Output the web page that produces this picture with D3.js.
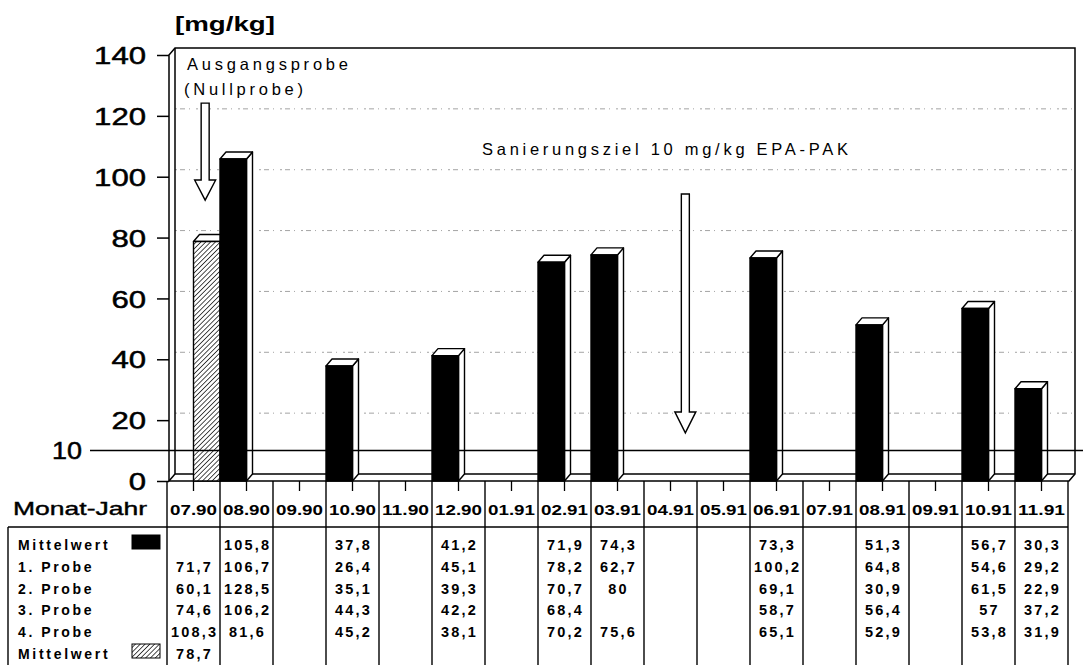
<!DOCTYPE html>
<html>
<head>
<meta charset="utf-8">
<script src="https://cdn.jsdelivr.net/npm/d3@7"></script>
<style>
  html, body { margin: 0; padding: 0; background: #fff; }
  svg { display: block; }
  text { font-family: "Liberation Sans", Arial, Helvetica, sans-serif; fill: #000; }
</style>
</head>
<body>
<svg id="chart" width="1083" height="665"></svg>
<script>
// Sampling months (Monat-Jahr)
const months = ["07.90","08.90","09.90","10.90","11.90","12.90","01.91","02.91","03.91",
                "04.91","05.91","06.91","07.91","08.91","09.91","10.91","11.91"];
// Mean of the four samples per month (black bars)
const mittelwert = [null,105.8,null,37.8,null,41.2,null,71.9,74.3,null,null,73.3,null,51.3,null,56.7,30.3];
// Individual samples
const probe1 = [71.7,106.7,null,26.4,null,45.1,null,78.2,62.7,null,null,100.2,null,64.8,null,54.6,29.2];
const probe2 = [60.1,128.5,null,35.1,null,39.3,null,70.7,80,null,null,69.1,null,30.9,null,61.5,22.9];
const probe3 = [74.6,106.2,null,44.3,null,42.2,null,68.4,null,null,null,58.7,null,56.4,null,57,37.2];
const probe4 = [108.3,81.6,null,45.2,null,38.1,null,70.2,75.6,null,null,65.1,null,52.9,null,53.8,31.9];
// Initial (zero) sample mean (hatched bar)
const nullprobe = [78.7,null,null,null,null,null,null,null,null,null,null,null,null,null,null,null,null];
// Axis ticks and remediation target
const yTicks = [0,20,40,60,80,100,120,140];
const target = 10;

const svg = d3.select("#chart");
const W = 1083;

const x = d3.scaleBand().domain(months).range([167, 1068]).padding(0);
const y = d3.scaleLinear().domain([0, 140]).range([481, 55]);
const bw = x.bandwidth();
const DX = 6, DY = 7;          // 3D depth offset
const axisX = 169;
const floorY = y(0);
const wallL = axisX + DX, wallR = 1069 + DX, wallTop = y(140) - DY, wallBot = floorY - DY;

const fmt = v => v == null ? "" : String(v).replace(".", ",");

// Hatch pattern
const defs = svg.append("defs");
const pat = defs.append("pattern").attr("id", "hatch")
  .attr("patternUnits", "userSpaceOnUse").attr("width", 3.4).attr("height", 3.4)
  .attr("patternTransform", "rotate(45)");
pat.append("rect").attr("width", 3.4).attr("height", 3.4).attr("fill", "#fff");
pat.append("line").attr("x1", 0).attr("y1", 0).attr("x2", 0).attr("y2", 3.4)
  .attr("stroke", "#000").attr("stroke-width", 1.4);

// Back wall gridlines
svg.append("g").selectAll("line").data(yTicks.filter(v => v > 0 && v < 140)).join("line")
  .attr("x1", wallL).attr("x2", wallR)
  .attr("y1", d => y(d) - DY).attr("y2", d => y(d) - DY)
  .attr("stroke", "#9a9a9a").attr("stroke-width", 0.9).attr("stroke-dasharray", "2,3,5,4,1,6");

// Walls and floor frame
const frame = svg.append("g").attr("fill", "none").attr("stroke", "#000").attr("stroke-width", 1.5);
frame.append("path").attr("d",
  `M${axisX},${floorY}L${axisX},${y(140)}L${wallL},${wallTop}L${wallR},${wallTop}L${wallR},${wallBot}L${1069},${floorY}Z`);
frame.append("path").attr("d", `M${wallL},${wallTop}L${wallL},${wallBot}L${wallR},${wallBot}`);
frame.append("path").attr("d", `M${axisX},${floorY}L${wallL},${wallBot}`);

// Y axis
const yAxis = d3.axisLeft(y).tickValues(yTicks).tickSize(12).tickPadding(11).tickFormat(d3.format("d"));
const ya = svg.append("g").attr("transform", `translate(${axisX},0)`).call(yAxis);
ya.select(".domain").remove();
ya.selectAll(".tick line").attr("stroke", "#000").attr("stroke-width", 1.5);
ya.selectAll(".tick text")
  .attr("font-size", 24).attr("font-family", "Liberation Sans, Arial, sans-serif")
  .attr("stroke", "#000").attr("stroke-width", 0.5)
  .attr("dy", "0.36em")
  .attr("textLength", d => String(d).length * 17.3)
  .attr("lengthAdjust", "spacingAndGlyphs");

// X axis ticks below the floor
svg.append("g").selectAll("line").data(months).join("line")
  .attr("x1", d => x(d) + bw / 2).attr("x2", d => x(d) + bw / 2)
  .attr("y1", floorY).attr("y2", floorY + 10)
  .attr("stroke", "#000").attr("stroke-width", 1.3);

// 3D bar drawing
function bar3d(g, x0, x1, v, fill) {
  const yt = y(v);
  const b = g.append("g").attr("stroke", "#000").attr("stroke-width", 1.4).attr("stroke-linejoin", "round");
  b.append("path").attr("fill", "#fff")
    .attr("d", `M${x1},${yt}L${x1 + DX},${yt - DY}L${x1 + DX},${floorY - DY}L${x1},${floorY}Z`);
  b.append("path").attr("fill", "#fff")
    .attr("d", `M${x0},${yt}L${x0 + DX},${yt - DY}L${x1 + DX},${yt - DY}L${x1},${yt}Z`);
  b.append("rect").attr("x", x0).attr("y", yt).attr("width", x1 - x0).attr("height", floorY - yt)
    .attr("fill", fill);
}
const bars = svg.append("g");
nullprobe.forEach((v, i) => {
  if (v != null) bar3d(bars, x(months[i]) + bw / 2, x(months[i]) + bw, v, "url(#hatch)");
});
mittelwert.forEach((v, i) => {
  if (v != null) bar3d(bars, x(months[i]), x(months[i]) + bw / 2, v, "#000");
});

// Remediation target line
svg.append("line").attr("x1", 90).attr("x2", W).attr("y1", y(target)).attr("y2", y(target))
  .attr("stroke", "#000").attr("stroke-width", 1.6);
svg.append("text").attr("x", 82).attr("y", y(target)).attr("dy", "0.36em")
  .attr("text-anchor", "end").attr("font-size", 24)
  .attr("stroke", "#000").attr("stroke-width", 0.5)
  .attr("textLength", 30).attr("lengthAdjust", "spacingAndGlyphs").text(String(target));

// Hollow arrows
function arrow(cx, vTop, vHead, vTip) {
  const s = 4, h = 10.5;
  const yT = y(vTop), yH = y(vHead), yP = y(vTip);
  svg.append("path").attr("fill", "#fff").attr("stroke", "#000").attr("stroke-width", 1.4)
    .attr("stroke-linejoin", "miter")
    .attr("d", `M${cx - s},${yT}L${cx + s},${yT}L${cx + s},${yH}L${cx + h},${yH}L${cx},${yP}L${cx - h},${yH}L${cx - s},${yH}Z`);
}
arrow(x("07.90") + bw * 0.72, 124.2, 98.9, 92.3);
arrow(x("04.91") + bw * 0.78, 94.3, 22.7, 15.8);

// Annotations
svg.append("text").attr("x", 175).attr("y", 31).attr("font-size", 21).attr("font-weight", "bold")
  .attr("textLength", 100).attr("lengthAdjust", "spacingAndGlyphs").text("[mg/kg]");
svg.append("text").attr("x", 187).attr("y", 70).attr("font-size", 16.5)
  .attr("textLength", 161).attr("lengthAdjust", "spacing").text("Ausgangsprobe");
svg.append("text").attr("x", 184).attr("y", 95).attr("font-size", 16.5)
  .attr("textLength", 119).attr("lengthAdjust", "spacing").text("(Nullprobe)");
svg.append("text").attr("x", 482).attr("y", 155).attr("font-size", 16.5)
  .attr("textLength", 366).attr("lengthAdjust", "spacing").text("Sanierungsziel 10 mg/kg EPA-PAK");

// Data table
const table = svg.append("g");
const headY = 527, tableBot = 665;
const tl = table.append("g").attr("stroke", "#000").attr("stroke-width", 1.4);
tl.append("line").attr("x1", 8).attr("x2", 1068).attr("y1", headY).attr("y2", headY);
tl.append("line").attr("x1", 8).attr("x2", 8).attr("y1", headY).attr("y2", tableBot);
tl.selectAll(".col").data(months.concat(["end"])).join("line").attr("class", "col")
  .attr("x1", (d, i) => 167 + i * bw).attr("x2", (d, i) => 167 + i * bw)
  .attr("y1", floorY).attr("y2", tableBot);

table.append("text").attr("x", 13).attr("y", 515).attr("font-size", 19)
  .attr("stroke", "#000").attr("stroke-width", 0.4)
  .attr("textLength", 134).attr("lengthAdjust", "spacingAndGlyphs").text("Monat-Jahr");

table.selectAll(".mon").data(months).join("text").attr("class", "mon")
  .attr("x", d => x(d) + bw / 2).attr("y", 515).attr("text-anchor", "middle")
  .attr("font-size", 14).attr("font-weight", "bold")
  .attr("textLength", 47).attr("lengthAdjust", "spacingAndGlyphs").text(d => d);

const rows = [
  { label: "Mittelwert", values: mittelwert, swatch: "#000" },
  { label: "1. Probe", values: probe1 },
  { label: "2. Probe", values: probe2 },
  { label: "3. Probe", values: probe3 },
  { label: "4. Probe", values: probe4 },
  { label: "Mittelwert", values: nullprobe, swatch: "url(#hatch)" }
];
const rowY = i => 550 + i * 21.8;
const LS = 2.2;
rows.forEach((r, i) => {
  table.append("text").attr("x", 18).attr("y", rowY(i)).attr("font-size", 14).attr("font-weight", "bold")
    .attr("letter-spacing", r.label === "Mittelwert" ? 2.7 : 2.6).text(r.label);
  if (r.swatch) {
    table.append("rect").attr("x", 132).attr("y", rowY(i) - 15).attr("width", 28).attr("height", 14)
      .attr("fill", r.swatch).attr("stroke", "#000").attr("stroke-width", 1);
  }
  table.selectAll(null).data(r.values.map((v, j) => ({ v, m: months[j] })).filter(d => d.v != null))
    .join("text")
    .attr("x", d => x(d.m) + bw / 2 + LS / 2).attr("y", rowY(i))
    .attr("text-anchor", "middle").attr("font-size", 14.5).attr("font-weight", "bold")
    .attr("letter-spacing", LS).text(d => fmt(d.v));
});
</script>
</body>
</html>
